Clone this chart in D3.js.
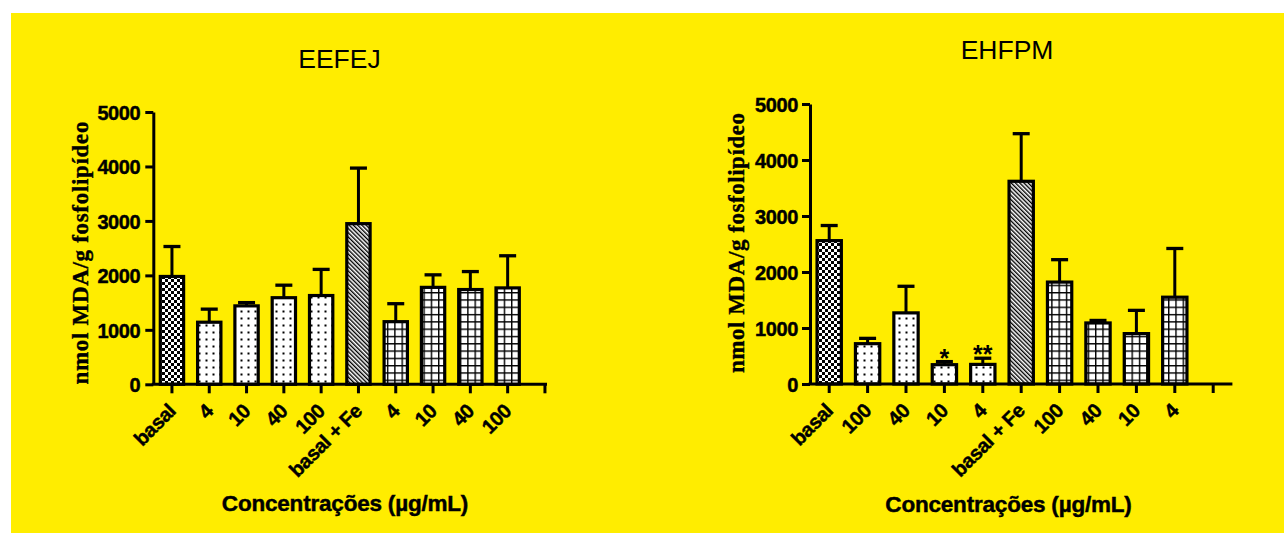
<!DOCTYPE html>
<html><head><meta charset="utf-8">
<script src="https://cdn.jsdelivr.net/npm/d3@7"></script>
<style>html,body{margin:0;padding:0;background:#fff;} svg{display:block;}</style>
</head><body><svg id="c" width="1284" height="533"></svg>
<script>
// ---- data ----
const categoriesA = ["basal","4","10","40","100","basal + Fe","4","10","40","100"];
const meansA = [1980,1140,1440,1590,1630,2950,1150,1780,1740,1770];
const semA   = [550,240,60,230,480,1020,330,230,330,590];
const categoriesB = ["basal","100","40","10","4","basal + Fe","100","40","10","4"];
const meansB = [2560,720,1270,345,350,3620,1820,1090,900,1550];
const semB   = [270,95,475,55,110,850,400,45,415,870];
const signifA = ["","","","","","","","","",""];
const signifB = ["","","","*","**","","","","",""];
const yTicks = [0,1000,2000,3000,4000,5000];
const titleA = "EEFEJ", titleB = "EHFPM";
const yLabel = "nmol MDA/g fosfolipídeo";
const xLabel = "Concentrações (µg/mL)";

// ---- drawing ----
const svg = d3.select("#c");
const SANS = "'Liberation Sans', Arial, sans-serif";
const SERIF = "'Liberation Serif', 'Times New Roman', serif";
svg.append("rect").attr("x",0).attr("y",0).attr("width",1284).attr("height",533).attr("fill","#fff");
svg.append("rect").attr("x",11).attr("y",13).attr("width",1273).attr("height",520).attr("fill","#FFED00");

const defs = svg.append("defs");
// checker
const pc = defs.append("pattern").attr("id","checker").attr("patternUnits","userSpaceOnUse").attr("width",6).attr("height",6);
pc.append("rect").attr("width",6).attr("height",6).attr("fill","#fff");
pc.append("rect").attr("width",3).attr("height",3).attr("fill","#000");
pc.append("rect").attr("x",3).attr("y",3).attr("width",3).attr("height",3).attr("fill","#000");
// dots
const pd = defs.append("pattern").attr("id","dots").attr("patternUnits","userSpaceOnUse").attr("width",7).attr("height",7);
pd.append("rect").attr("width",7).attr("height",7).attr("fill","#fff");
pd.append("rect").attr("x",2.5).attr("y",2.5).attr("width",2).attr("height",2).attr("fill","#000");
// hatch
const ph = defs.append("pattern").attr("id","hatch").attr("patternUnits","userSpaceOnUse").attr("width",3).attr("height",10).attr("patternTransform","rotate(-45)");
ph.append("rect").attr("width",3).attr("height",10).attr("fill","#fff");
ph.append("rect").attr("x",0).attr("y",0).attr("width",1.4).attr("height",10).attr("fill","#000");
// grid
const pg = defs.append("pattern").attr("id","grid").attr("patternUnits","userSpaceOnUse").attr("width",7.3).attr("height",7.3);
pg.append("rect").attr("width",7.3).attr("height",7.3).attr("fill","#fff");
pg.append("rect").attr("x",0).attr("y",0).attr("width",1.4).attr("height",7.3).attr("fill","#000");
pg.append("rect").attr("x",0).attr("y",0).attr("width",7.3).attr("height",1.4).attr("fill","#000");

function patternFor(i, cat){
  if (cat === "basal") return "url(#checker)";
  if (cat === "basal + Fe") return "url(#hatch)";
  return i < 5 ? "url(#dots)" : "url(#grid)";
}
function boldText(sel, size){
  return sel.attr("font-family",SANS).attr("font-weight","bold").attr("font-size",size)
    .attr("fill","#000").attr("stroke","#000").attr("stroke-width",0.45).attr("letter-spacing",-0.4);
}

function drawPanel(cfg){
  const {cats, means, sem, sig, left, step, axisEnd, yTop, yBottom, pad, tickPad,
         title, titleX, titleY, ylx, yly, ylen, xlx, xly} = cfg;
  const n = cats.length + 1;
  const x = d3.scaleBand().domain(d3.range(n)).range([left, left + n*step])
    .paddingInner(pad).paddingOuter(pad/2);
  const y = d3.scaleLinear().domain([0,5000]).range([yBottom, yTop]);
  const g = svg.append("g");

  // error bars
  const eb = g.append("g");
  cats.forEach((c,i)=>{
    const cx = x(i) + x.bandwidth()/2;
    eb.append("line").attr("x1",cx).attr("x2",cx).attr("y1",y(means[i])).attr("y2",y(means[i]+sem[i]))
      .attr("stroke","#000").attr("stroke-width",3);
    eb.append("line").attr("x1",cx-8.5).attr("x2",cx+8.5).attr("y1",y(means[i]+sem[i])).attr("y2",y(means[i]+sem[i]))
      .attr("stroke","#000").attr("stroke-width",3.3);
  });
  // bars
  g.append("g").selectAll("rect").data(means).join("rect")
    .attr("x",(d,i)=>x(i)).attr("width",x.bandwidth())
    .attr("y",d=>y(d)).attr("height",d=>y(0)-y(d))
    .attr("fill",(d,i)=>patternFor(i,cats[i]))
    .attr("stroke","#000").attr("stroke-width",3.2);
  // significance
  sig.forEach((s,i)=>{
    if(!s) return;
    g.append("text").attr("x",x(i)+x.bandwidth()/2).attr("y",y(means[i]+sem[i])+5)
      .attr("text-anchor","middle").attr("font-family",SANS).attr("font-weight","bold")
      .attr("font-size",25).attr("fill","#000").text(s);
  });

  // y axis
  const ya = g.append("g").attr("transform",`translate(${left},0)`)
    .call(d3.axisLeft(y).tickValues(yTicks).tickFormat(d3.format("d")).tickSize(8).tickSizeOuter(0).tickPadding(tickPad));
  ya.select(".domain").attr("stroke-width",3).attr("stroke","#000");
  ya.selectAll(".tick line").attr("stroke-width",3).attr("stroke","#000");
  boldText(ya.selectAll(".tick text"), 20).attr("dy","0.36em");

  // x axis
  const xa = g.append("g").attr("transform",`translate(0,${yBottom})`)
    .call(d3.axisBottom(x).tickSize(9).tickSizeOuter(0).tickFormat(""));
  xa.select(".domain").remove();
  xa.append("line").attr("x1",left-1.5).attr("x2",axisEnd).attr("y1",0).attr("y2",0)
    .attr("stroke","#000").attr("stroke-width",3);
  xa.selectAll(".tick line").attr("stroke-width",3).attr("stroke","#000");
  xa.selectAll(".tick text").remove();
  xa.selectAll(".tick").each(function(d){
    if (d >= cats.length) return;
    boldText(d3.select(this).append("text").attr("transform","translate(5,28) rotate(-45)")
      .attr("text-anchor","end"), 20).text(cats[d]);
  });

  // titles & labels
  svg.append("text").attr("x",titleX).attr("y",titleY).attr("text-anchor","middle")
    .attr("font-family",SANS).attr("font-size",26.5).attr("fill","#000").text(title);
  svg.append("text").attr("transform",`translate(${ylx},${yly}) rotate(-90)`).attr("text-anchor","middle")
    .attr("font-family",SERIF).attr("font-weight","bold").attr("font-size",23)
    .attr("stroke","#000").attr("stroke-width",0.4)
    .attr("textLength",ylen).attr("lengthAdjust","spacing").attr("fill","#000").text(yLabel);
  boldText(svg.append("text").attr("x",xlx).attr("y",xly).attr("text-anchor","middle"), 22.5)
    .attr("letter-spacing",-0.2).text(xLabel);
}

drawPanel({cats:categoriesA, means:meansA, sem:semA, sig:signifA, left:153.3, step:37.3, axisEnd:547,
  yTop:112, yBottom:384.3, pad:0.375, tickPad:5, title:titleA, titleX:339.5, titleY:68,
  ylx:88, yly:253, ylen:263, xlx:345, xly:511});
drawPanel({cats:categoriesB, means:meansB, sem:semB, sig:signifB, left:810, step:38.4, axisEnd:1232.4,
  yTop:104, yBottom:384, pad:0.367, tickPad:4, title:titleB, titleX:1007, titleY:59,
  ylx:743.5, yly:243, ylen:260, xlx:1008.5, xly:512});
</script>
</body></html>
